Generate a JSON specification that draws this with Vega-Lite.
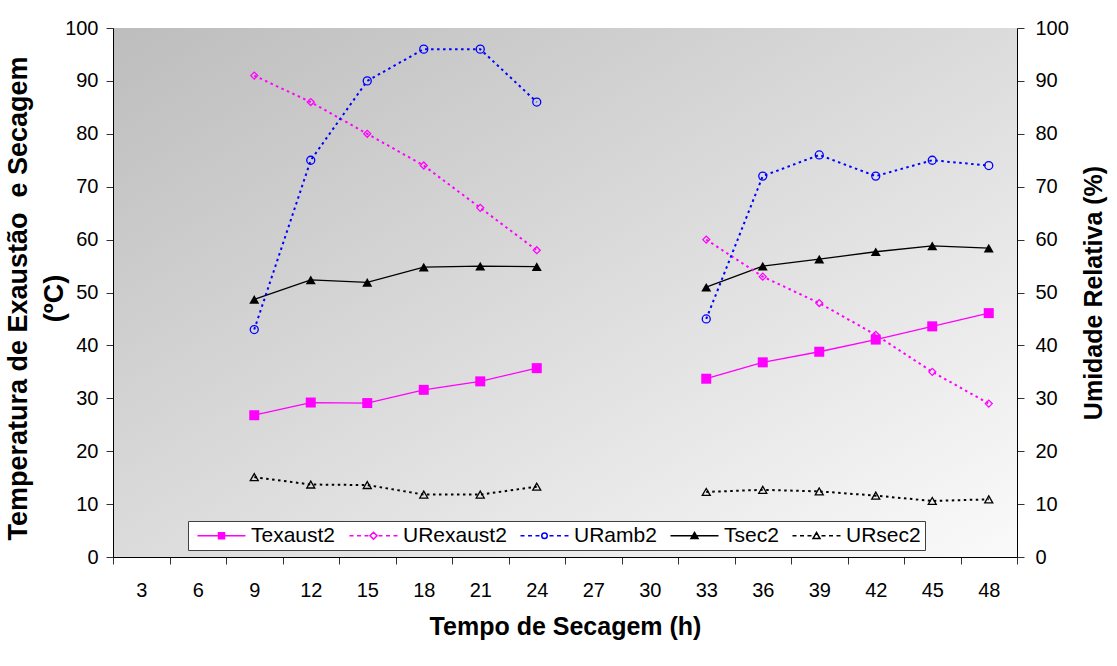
{
  "$schema": "https://vega.github.io/schema/vega-lite/v6.json",
  "width": 904,
  "height": 529,
  "autosize": "none",
  "padding": {"left": 113, "top": 28, "right": 100, "bottom": 109},
  "background": "white",
  "config": {
    "font": "Liberation Sans",
    "view": {
      "stroke": null,
      "fill": {"gradient": "linear", "x1": 0, "y1": 0, "x2": 1, "y2": 1,
        "stops": [{"offset": 0, "color": "#bdbdbd"}, {"offset": 1, "color": "#fafafa"}]}
    },
    "axis": {
      "labelFont": "Liberation Sans", "labelFontSize": 20, "labelColor": "black",
      "titleFont": "Liberation Sans", "titleFontWeight": "bold", "titleColor": "black",
      "domainColor": "black", "domainWidth": 1, "tickColor": "#333333", "tickSize": 7,
      "grid": false
    }
  },
  "data": {
    "values": [
      {"h": 9, "series": "Texaust2", "v": 26.8, "fase": 1},
      {"h": 12, "series": "Texaust2", "v": 29.2, "fase": 1},
      {"h": 15, "series": "Texaust2", "v": 29.1, "fase": 1},
      {"h": 18, "series": "Texaust2", "v": 31.6, "fase": 1},
      {"h": 21, "series": "Texaust2", "v": 33.2, "fase": 1},
      {"h": 24, "series": "Texaust2", "v": 35.7, "fase": 1},
      {"h": 33, "series": "Texaust2", "v": 33.7, "fase": 2},
      {"h": 36, "series": "Texaust2", "v": 36.8, "fase": 2},
      {"h": 39, "series": "Texaust2", "v": 38.8, "fase": 2},
      {"h": 42, "series": "Texaust2", "v": 41.1, "fase": 2},
      {"h": 45, "series": "Texaust2", "v": 43.6, "fase": 2},
      {"h": 48, "series": "Texaust2", "v": 46.1, "fase": 2},
      {"h": 9, "series": "URexaust2", "v": 91, "fase": 1},
      {"h": 12, "series": "URexaust2", "v": 86, "fase": 1},
      {"h": 15, "series": "URexaust2", "v": 80, "fase": 1},
      {"h": 18, "series": "URexaust2", "v": 74, "fase": 1},
      {"h": 21, "series": "URexaust2", "v": 66, "fase": 1},
      {"h": 24, "series": "URexaust2", "v": 58, "fase": 1},
      {"h": 33, "series": "URexaust2", "v": 60, "fase": 2},
      {"h": 36, "series": "URexaust2", "v": 53, "fase": 2},
      {"h": 39, "series": "URexaust2", "v": 48, "fase": 2},
      {"h": 42, "series": "URexaust2", "v": 42, "fase": 2},
      {"h": 45, "series": "URexaust2", "v": 35, "fase": 2},
      {"h": 48, "series": "URexaust2", "v": 29, "fase": 2},
      {"h": 9, "series": "URamb2", "v": 43, "fase": 1},
      {"h": 12, "series": "URamb2", "v": 75, "fase": 1},
      {"h": 15, "series": "URamb2", "v": 90, "fase": 1},
      {"h": 18, "series": "URamb2", "v": 96, "fase": 1},
      {"h": 21, "series": "URamb2", "v": 96, "fase": 1},
      {"h": 24, "series": "URamb2", "v": 86, "fase": 1},
      {"h": 33, "series": "URamb2", "v": 45, "fase": 2},
      {"h": 36, "series": "URamb2", "v": 72, "fase": 2},
      {"h": 39, "series": "URamb2", "v": 76, "fase": 2},
      {"h": 42, "series": "URamb2", "v": 72, "fase": 2},
      {"h": 45, "series": "URamb2", "v": 75, "fase": 2},
      {"h": 48, "series": "URamb2", "v": 74, "fase": 2},
      {"h": 9, "series": "Tsec2", "v": 48.7, "fase": 1},
      {"h": 12, "series": "Tsec2", "v": 52.4, "fase": 1},
      {"h": 15, "series": "Tsec2", "v": 51.9, "fase": 1},
      {"h": 18, "series": "Tsec2", "v": 54.8, "fase": 1},
      {"h": 21, "series": "Tsec2", "v": 55.0, "fase": 1},
      {"h": 24, "series": "Tsec2", "v": 54.9, "fase": 1},
      {"h": 33, "series": "Tsec2", "v": 51.0, "fase": 2},
      {"h": 36, "series": "Tsec2", "v": 55.0, "fase": 2},
      {"h": 39, "series": "Tsec2", "v": 56.3, "fase": 2},
      {"h": 42, "series": "Tsec2", "v": 57.7, "fase": 2},
      {"h": 45, "series": "Tsec2", "v": 58.8, "fase": 2},
      {"h": 48, "series": "Tsec2", "v": 58.4, "fase": 2},
      {"h": 9, "series": "URsec2", "v": 15.1, "fase": 1},
      {"h": 12, "series": "URsec2", "v": 13.7, "fase": 1},
      {"h": 15, "series": "URsec2", "v": 13.6, "fase": 1},
      {"h": 18, "series": "URsec2", "v": 11.8, "fase": 1},
      {"h": 21, "series": "URsec2", "v": 11.8, "fase": 1},
      {"h": 24, "series": "URsec2", "v": 13.3, "fase": 1},
      {"h": 33, "series": "URsec2", "v": 12.3, "fase": 2},
      {"h": 36, "series": "URsec2", "v": 12.7, "fase": 2},
      {"h": 39, "series": "URsec2", "v": 12.4, "fase": 2},
      {"h": 42, "series": "URsec2", "v": 11.6, "fase": 2},
      {"h": 45, "series": "URsec2", "v": 10.6, "fase": 2},
      {"h": 48, "series": "URsec2", "v": 10.9, "fase": 2}
    ]
  },
  "encoding": {
    "x": {
      "field": "h", "type": "ordinal",
      "scale": {"type": "band", "domain": [3, 6, 9, 12, 15, 18, 21, 24, 27, 30, 33, 36, 39, 42, 45, 48], "paddingInner": 0, "paddingOuter": 0},
      "axis": {"title": "Tempo de Secagem (h)", "titleFontSize": 25, "titlePadding": 14, "labelAngle": 0, "tickBand": "extent", "labelPadding": 16}
    }
  },
  "layer": [
    {
      "encoding": {
        "y": {
          "field": "v", "type": "quantitative",
          "scale": {"domain": [0, 100], "nice": false, "zero": true},
          "axis": {
            "orient": "left", "values": [0, 10, 20, 30, 40, 50, 60, 70, 80, 90, 100],
            "labelPadding": 8,
            "title": ["\u00a0\u00a0\u00a0\u00a0\u00a0\u00a0\u00a0\u00a0Temperatura de Exaustão\u00a0 e Secagem", "(ºC)"],
            "titleFontSize": 27, "titleLineHeight": 36, "titlePadding": -4, "titleY": 270
          }
        }
      },
      "layer": [
        {
          "transform": [{"filter": {"field": "series", "oneOf": ["Texaust2", "Tsec2"]}}],
          "mark": {"type": "line", "strokeWidth": 1.3},
          "encoding": {
            "stroke": {"field": "series", "type": "nominal", "legend": null,
              "scale": {"domain": ["URsec2", "Tsec2", "URamb2", "URexaust2", "Texaust2"], "range": ["#000000", "#000000", "#0000FF", "#FF00FF", "#FF00FF"]}},
            "detail": {"field": "fase", "type": "nominal"}
          }
        },
        {
          "transform": [{"filter": {"field": "series", "equal": "Texaust2"}}],
          "mark": {"type": "point", "shape": "square", "filled": true, "color": "#FF00FF", "size": 100, "opacity": 1}
        },
        {
          "transform": [{"filter": {"field": "series", "equal": "Tsec2"}}],
          "mark": {"type": "point", "shape": "triangle-up", "filled": true, "color": "#000000", "size": 100, "opacity": 1}
        },
        {
          "mark": {"type": "point", "size": 0, "filled": false, "opacity": 1, "strokeWidth": 1.5},
          "encoding": {
            "color": {
              "field": "series", "type": "nominal",
              "scale": {"domain": ["Texaust2", "URexaust2", "URamb2", "Tsec2", "URsec2"], "range": ["#FF00FF", "#FF00FF", "#0000FF", "#000000", "#000000"]},
              "legend": {
                "orient": "none", "legendX": 75, "legendY": 493, "direction": "horizontal", "columns": 5,
                "title": null, "fillColor": "white", "strokeColor": "#404040", "padding": 4,
                "labelFont": "Liberation Sans", "labelFontSize": 21, "labelColor": "black",
                "symbolSize": 100, "symbolStrokeWidth": 1.5, "symbolOffset": 19, "labelOffset": 19,
                "columnPadding": 8, "symbolOpacity": 1
              }
            },
            "shape": {
              "field": "series", "type": "nominal",
              "scale": {
                "domain": ["Texaust2", "URexaust2", "URamb2", "Tsec2", "URsec2"],
                "range": [
                  "M-4.8,0H4.8M-0.6,-0.6H0.6V0.6H-0.6ZM-0.6,-0.3H0.6M-0.6,0.3H0.6",
                  "M-4.8,0H-4.0M-3.3,0H-2.5M-1.8,0H-1.0M1.0,0H1.8M2.5,0H3.3M4.0,0H4.8M0,-0.7L0.7,0L0,0.7L-0.7,0Z",
                  "M-4.8,0H-4.0M-3.3,0H-2.5M-1.8,0H-1.0M1.0,0H1.8M2.5,0H3.3M4.0,0H4.8M-0.55,0A0.55,0.55,0,1,1,0.55,0A0.55,0.55,0,1,1,-0.55,0Z",
                  "M-4.8,0H4.8M0,-0.65L0.7,0.55H-0.7ZM-0.52,0.25H0.52M-0.35,-0.05H0.35M-0.17,-0.35H0.17",
                  "M-4.8,0H-4.0M-3.3,0H-2.5M-1.8,0H-1.0M1.0,0H1.8M2.5,0H3.3M4.0,0H4.8M0,-0.65L0.7,0.55H-0.7Z"
                ]
              }
            }
          }
        }
      ]
    },
    {
      "encoding": {
        "y": {
          "field": "v", "type": "quantitative",
          "scale": {"domain": [0, 100], "nice": false, "zero": true},
          "axis": {
            "orient": "right", "values": [0, 10, 20, 30, 40, 50, 60, 70, 80, 90, 100],
            "labelPadding": 11,
            "title": "Umidade Relativa (%)", "titleFontSize": 25, "titleAngle": 270, "titlePadding": 38
          }
        }
      },
      "layer": [
        {
          "transform": [{"filter": {"field": "series", "oneOf": ["URexaust2", "URamb2", "URsec2"]}}],
          "mark": {"type": "line", "strokeWidth": 2, "strokeDash": [2.5, 3.5]},
          "encoding": {
            "stroke": {"field": "series", "type": "nominal", "legend": null,
              "scale": {"domain": ["URsec2", "Tsec2", "URamb2", "URexaust2", "Texaust2"], "range": ["#000000", "#000000", "#0000FF", "#FF00FF", "#FF00FF"]}},
            "detail": {"field": "fase", "type": "nominal"}
          }
        },
        {
          "transform": [{"filter": {"field": "series", "equal": "URexaust2"}}],
          "mark": {"type": "point", "shape": "diamond", "filled": false, "color": "#FF00FF", "size": 49, "opacity": 1, "strokeWidth": 1.3}
        },
        {
          "transform": [{"filter": {"field": "series", "equal": "URamb2"}}],
          "mark": {"type": "point", "shape": "circle", "filled": false, "color": "#0000FF", "size": 64, "opacity": 1, "strokeWidth": 1.3}
        },
        {
          "transform": [{"filter": {"field": "series", "equal": "URsec2"}}],
          "mark": {"type": "point", "shape": "triangle-up", "filled": false, "color": "#000000", "size": 64, "opacity": 1, "strokeWidth": 1.3}
        }
      ]
    }
  ],
  "resolve": {"scale": {"y": "independent"}}
}
